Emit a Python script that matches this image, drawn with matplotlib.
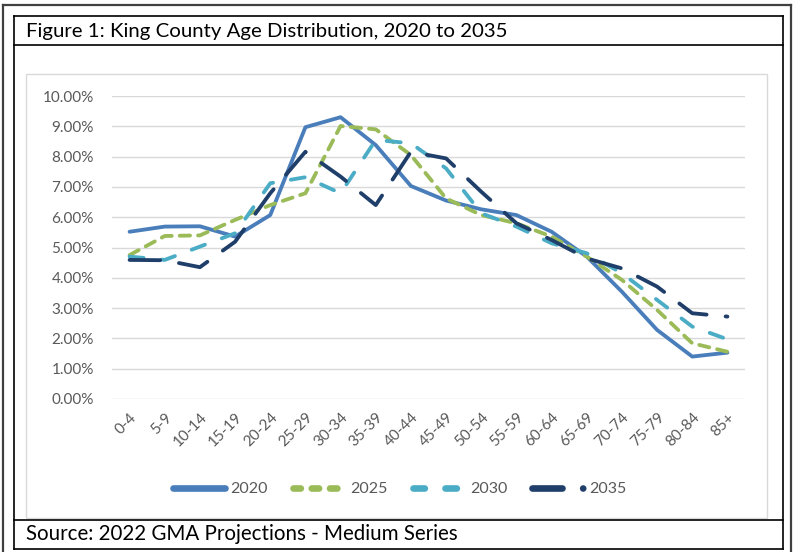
import matplotlib

matplotlib.use("Agg")
import matplotlib.pyplot as plt
from matplotlib.lines import Line2D
from matplotlib.patches import Rectangle
from matplotlib.ticker import FuncFormatter, MultipleLocator

plt.rcParams["font.family"] = ["Lato", "DejaVu Sans"]

age_groups = ["0-4", "5-9", "10-14", "15-19", "20-24", "25-29", "30-34", "35-39",
              "40-44", "45-49", "50-54", "55-59", "60-64", "65-69", "70-74",
              "75-79", "80-84", "85+"]
pct_2020 = [5.52, 5.69, 5.70, 5.36, 6.07, 8.97, 9.30, 8.38, 7.03, 6.55, 6.26,
            6.07, 5.52, 4.70, 3.54, 2.28, 1.40, 1.53]
pct_2025 = [4.75, 5.38, 5.40, 5.91, 6.40, 6.79, 9.01, 8.90, 8.05, 6.62, 6.07,
            5.80, 5.36, 4.70, 3.93, 2.94, 1.84, 1.56]
pct_2030 = [4.70, 4.59, 5.03, 5.47, 7.12, 7.32, 6.79, 8.55, 8.44, 7.61, 6.13,
            5.69, 5.14, 4.81, 4.15, 3.27, 2.39, 1.97]
pct_2035 = [4.59, 4.58, 4.35, 5.19, 6.79, 8.16, 7.34, 6.40, 8.16, 7.94, 6.84,
            5.80, 5.25, 4.64, 4.31, 3.71, 2.83, 2.72]

# label, values, colour, dash in chart, dash in legend glyph
series = [
    ("2020", pct_2020, "#4A7EBB", None, None),
    ("2025", pct_2025, "#9BBB59", (2.7, 2.1), (1.1, 1.64)),
    ("2030", pct_2030, "#4BACC6", (3.7, 4.7), (1.7, 3.1)),
    ("2035", pct_2035, "#1F3F6A", (8.0, 5.0), (4.5, 3.1, 0.01, 3.1)),
]

W, H = 793, 552
fig = plt.figure(figsize=(W / 100, H / 100), dpi=100)


def fx(px):
    return px / W


def fy(py):
    return 1 - py / H


def hline(x0, x1, y, color="black", lw=1.2):
    fig.add_artist(Line2D([fx(x0), fx(x1)], [fy(y), fy(y)], color=color, lw=lw,
                          transform=fig.transFigure))


def vline(x, y0, y1, color="black", lw=1.2):
    fig.add_artist(Line2D([fx(x), fx(x)], [fy(y0), fy(y1)], color=color, lw=lw,
                          transform=fig.transFigure))


# outer frame
hline(3, 791, 5, color="#404040", lw=1.6)
vline(3, 5, 552, color="#404040", lw=1.6)
vline(791, 5, 552, color="#404040", lw=1.6)
# inner table box
hline(14, 783, 16)
hline(14, 783, 45)
hline(14, 783, 519.5)
hline(14, 783, 549)
vline(14, 16, 549)
vline(783, 16, 549)
# chart area border
fig.add_artist(Rectangle((fx(26), fy(518)), fx(767) - fx(26), fy(74) - fy(518),
                         fill=False, edgecolor="#D9D9D9", lw=1.0,
                         transform=fig.transFigure))

fig.text(fx(26), fy(31), "Figure 1: King County Age Distribution, 2020 to 2035",
         fontsize=14.7, ha="left", va="center", color="black")
fig.text(fx(26), fy(534.5), "Source: 2022 GMA Projections - Medium Series",
         fontsize=14.8, ha="left", va="center", color="black")

ax = fig.add_axes([fx(112), fy(399), fx(745) - fx(112), fy(96) - fy(399)])
x = list(range(len(age_groups)))
handles = []
for label, vals, color, dash, leg_dash in series:
    (ln,) = ax.plot(x, vals, color=color, lw=2.75,
                    solid_capstyle="round", dash_capstyle="round",
                    solid_joinstyle="round", dash_joinstyle="round")
    if dash is not None:
        ln.set_dashes(dash)
    h = Line2D([], [], color=color, lw=4.8, label=label,
               solid_capstyle="round", dash_capstyle="round")
    if leg_dash is not None:
        h.set_dashes(leg_dash)
    handles.append(h)

ax.set_xlim(-0.5, len(age_groups) - 0.5)
ax.set_ylim(0, 10)
ax.yaxis.set_major_locator(MultipleLocator(1))
ax.yaxis.set_major_formatter(FuncFormatter(lambda v, _: f"{v:.2f}%"))
ax.grid(axis="y", color="#D9D9D9", lw=1.0)
ax.set_axisbelow(True)
for sp in ax.spines.values():
    sp.set_visible(False)
ax.tick_params(axis="both", length=0, colors="#595959", labelsize=11)
ax.tick_params(axis="y", pad=13)
ax.set_xticks(x)
ax.set_xticklabels(age_groups, rotation=45, ha="right", va="top",
                   rotation_mode="anchor")
ax.tick_params(axis="x", pad=8)

fig.legend(handles=handles, loc="center", bbox_to_anchor=(fx(400), fy(489)),
           ncol=4, frameon=False, fontsize=11.5, handlelength=3.25,
           handletextpad=0.35, columnspacing=1.55, labelcolor="#595959")

fig.savefig("out.png", dpi=100)
